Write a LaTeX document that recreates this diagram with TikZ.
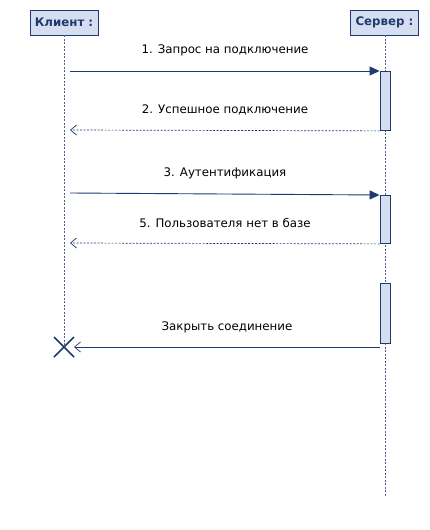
\documentclass[tikz,border=0pt]{standalone}
\usepackage{fontspec}
\setmainfont{DejaVu Sans}
\usepackage{tikz}
\usepackage{xcolor}
\usetikzlibrary{shapes, arrows, arrows.meta}

\definecolor{seqborder}{RGB}{31,58,110}
\definecolor{seqfill}{RGB}{212,222,240}
\definecolor{seqlife}{RGB}{80,98,140}

\tikzset{
    actor/.style={draw=seqborder, fill=seqfill, line width=0.9pt, minimum width=68pt, minimum height=25pt, inner sep=0pt, font=\fontsize{11.8}{14}\selectfont\bfseries, text=seqborder},
    lifeline/.style={draw=seqlife, line width=0.7pt, dash pattern={on 2pt off 1.5pt}},
    activation/.style={draw=seqborder, fill=seqfill, line width=0.9pt, minimum width=10pt, inner sep=0pt, anchor=north},
    msglabel/.style={font=\fontsize{11.8}{14}\selectfont, text=black},
    call/.style={draw=seqborder, line width=0.9pt, -{Triangle[length=10pt,width=9pt]}},
    reply/.style={draw=seqborder, line width=0.7pt, dash pattern={on 2pt off 1.5pt}, -{Straight Barb[length=6pt,width=10pt,line width=0.7pt]}},
    closemsg/.style={draw=seqborder, line width=0.9pt, -{Straight Barb[length=6pt,width=10pt,line width=0.7pt]}}
}

\begin{document}
\begin{tikzpicture}[x=1pt,y=1pt,yscale=-1,xscale=1]
    \useasboundingbox (0,0) rectangle (430,530);

    % Actor Nodes
    \node [actor] (client) at (64,22.5) {Клиент :};
    \node [actor] (server) at (384.5,22.5) {Сервер :};

    % Lifeline ends
    \coordinate (clientend) at (64,347);
    \coordinate (serverend) at (385,497);

    % Lifelines
    \draw [lifeline] (client.south) -- (clientend);
    \draw [lifeline] (server.south -| serverend) -- (serverend);

    % Activation bars
    \node [activation, minimum height=59pt] (act1) at (385,71) {};
    \node [activation, minimum height=48pt] (act2) at (385,195) {};
    \node [activation, minimum height=60pt] (act3) at (385,283) {};

    % Message ends
    \coordinate (m1start) at (70,71);
    \coordinate (m2end) at (70,130);
    \coordinate (m3start) at (70,193);
    \coordinate (m4end) at (70,243);
    \coordinate (m5end) at (74,347);

    % Connection
    \draw [call] (m1start) -- (act1.north west);
    \draw [reply] (act1.south west) -- (m2end);
    \draw [call] (m3start) -- (act2.north west);
    \draw [reply] (act2.south west) -- (m4end);
    \draw [closemsg] (act3.south west |- clientend) -- (m5end);

    % Destruction mark
    \draw [draw=seqborder, line width=1.6pt] ([shift={(-10,-10)}]clientend) -- ([shift={(10,10)}]clientend);
    \draw [draw=seqborder, line width=1.6pt] ([shift={(10,-10)}]clientend) -- ([shift={(-10,10)}]clientend);

    % Text Node
    \node [msglabel] (lbl1) at (225,50) {1. Запрос на подключение};
    % Text Node
    \node [msglabel] (lbl2) at (225,110) {2. Успешное подключение};
    % Text Node
    \node [msglabel] (lbl3) at (225,173) {3. Аутентификация};
    % Text Node
    \node [msglabel] (lbl4) at (225,223) {5. Пользователя нет в базе};
    % Text Node
    \node [msglabel] (lbl5) at (227,327) {Закрыть соединение};

\end{tikzpicture}
\end{document}
